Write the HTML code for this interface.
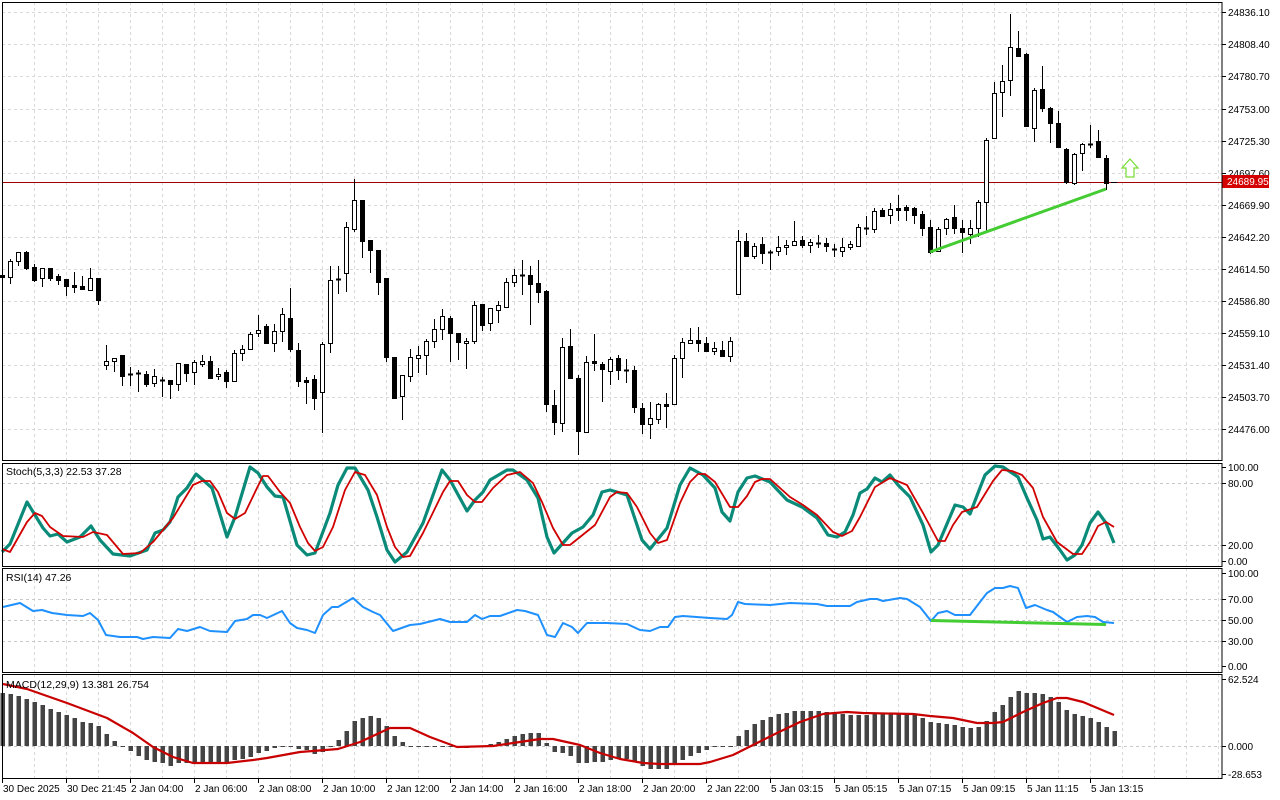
<!DOCTYPE html>
<html><head><meta charset="utf-8"><style>
html,body{margin:0;padding:0;background:#fff;width:1280px;height:800px;overflow:hidden}
svg{display:block;font-family:"Liberation Sans",sans-serif}
</style></head><body>
<svg id="s" width="1280" height="800" xmlns="http://www.w3.org/2000/svg"></svg>
<script>
var S=document.getElementById('s');var h='';
function L(x1,y1,x2,y2,c,w,d){h+='<line x1="'+x1+'" y1="'+y1+'" x2="'+x2+'" y2="'+y2+'" stroke="'+c+'" stroke-width="'+(w||1)+'"'+(d?' stroke-dasharray="'+d+'"':'')+'/>';}
function T(x,y,t,c,a){h+='<text x="'+x+'" y="'+y+'" font-size="10" fill="'+(c||'#000')+'"'+(a?' text-anchor="'+a+'"':'')+'>'+t+'</text>';}
function P(pts,c,w){h+='<polyline fill="none" stroke="'+c+'" stroke-width="'+w+'" stroke-linejoin="round" points="'+pts.map(function(p){return p[0]+','+p[1]}).join(' ')+'"/>';}
var G='#d9d9d9';
// panels
var panels=[[2,460],[463,566],[568,672],[674,778]];
panels.forEach(function(p){
 for(var x=34;x<1222;x+=32)L(x+.5,p[0],x+.5,p[1],G,1,'3,3');
});
var py=[12,44,76,109,141,173,205,237,269,301,333,365,397,429];
var pv=['24836.10','24808.40','24780.70','24753.00','24725.30','24697.60','24669.90','24642.20','24614.50','24586.80','24559.10','24531.40','24503.70','24476.00'];
py.forEach(function(y,i){L(2,y+.5,1222,y+.5,G,1,'3,3');L(1222,y+.5,1226,y+.5,'#000');T(1228,y+4,pv[i]);});
[[483,'80.00'],[545,'20.00']].forEach(function(a){L(2,a[0]+.5,1222,a[0]+.5,'#c8c8c8',1,'3,3');L(1222,a[0]+.5,1226,a[0]+.5,'#000');T(1228,a[0]+4,a[1]);});
L(1222,467.5,1226,467.5,'#000');T(1228,471,'100.00');L(1222,561.5,1226,561.5,'#000');T(1228,565,'0.00');
[[599,'70.00'],[620,'50.00'],[641,'30.00']].forEach(function(a){L(2,a[0]+.5,1222,a[0]+.5,'#c8c8c8',1,'3,3');L(1222,a[0]+.5,1226,a[0]+.5,'#000');T(1228,a[0]+4,a[1]);});
L(1222,573.5,1226,573.5,'#000');T(1228,577,'100.00');L(1222,666.5,1226,666.5,'#000');T(1228,670,'0.00');
L(2,746.5,1222,746.5,'#c8c8c8',1,'3,3');L(1222,746.5,1226,746.5,'#000');T(1228,750,'0.000');
L(1222,679.5,1226,679.5,'#000');T(1228,683,'62.524');L(1222,774.5,1226,774.5,'#000');T(1228,778,'-28.653');
// candles [top,bottom,high,low,type]
var C=[[275,277,274,278,'b'],[261,277,259,283,'w'],[252,261,252,265,'w'],[252,268,251,269,'b'],[267,280,264,281,'b'],[268,278,268,286,'w'],[268,278,268,280,'b'],[276,280,274,284,'b'],[279,286,279,295,'b'],[285,287,272,292,'b'],[286,289,276,289,'b'],[278,290,268,290,'w'],[278,300,278,304,'b'],[361,365,345,369,'w'],[358,361,358,371,'w'],[355,376,355,385,'b'],[374,375,367,385,'b'],[373,374,370,391,'c'],[374,384,371,386,'b'],[376,383,369,386,'w'],[380,381,377,396,'c'],[380,384,380,398,'b'],[363,384,363,390,'w'],[364,373,364,381,'b'],[362,372,360,384,'w'],[361,364,355,366,'w'],[361,378,356,378,'b'],[374,376,368,379,'w'],[372,381,370,387,'b'],[353,381,350,381,'w'],[349,353,345,360,'w'],[334,349,332,349,'w'],[330,333,315,336,'w'],[326,343,324,343,'b'],[331,343,324,351,'w'],[314,331,308,341,'w'],[318,349,288,351,'b'],[350,381,343,386,'b'],[380,382,377,403,'b'],[379,398,375,409,'b'],[344,392,342,432,'w'],[280,343,266,352,'w'],[279,280,266,293,'c'],[227,273,222,291,'w'],[200,229,179,231,'w'],[200,241,200,257,'b'],[240,250,240,272,'b'],[250,282,250,294,'b'],[278,357,278,361,'b'],[357,398,357,398,'b'],[375,396,375,419,'w'],[357,376,349,381,'w'],[355,358,346,372,'w'],[341,355,339,374,'w'],[329,341,319,347,'w'],[316,329,309,339,'w'],[318,333,316,361,'b'],[333,342,333,359,'b'],[341,343,338,368,'w'],[305,341,301,343,'w'],[304,325,304,330,'b'],[308,323,308,330,'w'],[305,310,301,322,'w'],[282,307,278,307,'w'],[275,282,269,286,'w'],[275,276,260,294,'b'],[275,284,266,324,'b'],[283,292,260,302,'b'],[291,404,290,411,'b'],[405,422,390,434,'b'],[347,423,338,431,'w'],[346,378,329,378,'b'],[378,431,375,454,'b'],[362,432,356,432,'w'],[361,363,334,370,'b'],[364,369,362,401,'b'],[359,371,357,384,'w'],[358,370,355,379,'b'],[370,371,359,382,'c'],[370,407,366,412,'b'],[408,424,403,433,'b'],[418,424,402,438,'w'],[404,419,403,423,'w'],[404,406,393,427,'b'],[358,404,355,404,'w'],[342,358,338,377,'w'],[340,343,328,343,'w'],[340,343,327,351,'b'],[343,351,337,351,'b'],[348,351,342,354,'w'],[350,356,341,356,'b'],[341,356,337,361,'w'],[241,294,230,294,'w'],[241,256,233,256,'b'],[246,256,243,258,'w'],[244,253,237,263,'b'],[252,253,250,269,'c'],[247,251,236,255,'w'],[245,247,240,254,'w'],[241,245,221,245,'w'],[240,245,236,247,'b'],[242,245,239,252,'w'],[243,244,235,247,'c'],[243,246,238,251,'b'],[249,250,244,256,'c'],[247,251,238,256,'w'],[244,247,241,249,'w'],[227,246,224,246,'w'],[228,229,216,234,'c'],[211,229,208,232,'w'],[210,216,208,216,'b'],[209,215,203,223,'w'],[208,210,195,220,'b'],[207,210,205,220,'b'],[208,215,207,223,'b'],[214,228,211,235,'b'],[227,252,220,253,'b'],[229,251,227,251,'w'],[219,228,218,234,'w'],[217,228,205,233,'b'],[228,232,220,252,'b'],[228,234,220,243,'w'],[202,228,200,236,'w'],[140,202,138,231,'w'],[93,138,82,138,'w'],[81,92,65,116,'w'],[47,80,14,95,'w'],[48,56,31,56,'b'],[54,126,53,126,'b'],[90,128,88,141,'w'],[89,108,66,111,'b'],[108,123,107,142,'b'],[123,147,111,147,'b'],[149,182,148,183,'b'],[154,183,153,184,'w'],[144,153,143,170,'w'],[144,145,125,147,'c'],[141,157,130,157,'b'],[158,183,155,189,'b'],[182,182,182,182,'c']];
// price line
L(2,182.5,1222,182.5,'#a00000');
C.forEach(function(c,k){var x=2+8*k;
 if(k==139){L(x-3,182.5,x+3,182.5,'#000');return;}
 L(x+.5,c[2],x+.5,c[3]+1,'#000');
 if(c[4]=='c'||c[1]-c[0]<2){L(x-2,c[0]+.5,x+3,c[0]+.5,'#000',Math.max(1,c[1]-c[0]+1));}
 else h+='<rect x="'+(x-1.5)+'" y="'+(c[0]+.5)+'" width="4" height="'+(c[1]-c[0])+'" fill="'+(c[4]=='w'?'#fff':'#000')+'" stroke="#000" stroke-width="1"/>';
});
L(930,252,1106,189,'#44cc33',3);
h+='<polygon points="1130,159 1138,168 1134,168 1134,177 1126,177 1126,168 1122,168" fill="#fff" stroke="#77dd33" stroke-width="1.2"/>';
h+='<rect x="1222" y="175" width="47" height="13" fill="#d40000"/>';
T(1227,185,'24689.95','#fff');
// MACD histogram
var M=[693,694,696,699,702,705,709,712,715,718,722,723,726,734,741,746,751,756,760,762,763,766,763,763,763,763,763,763,762,760,759,757,753,751,748,747,747,749,750,754,752,747,740,731,721,718,716,718,726,736,742,746,747,747,747,747,746,747,748,747,747,744,742,739,736,734,733,733,743,752,753,756,763,763,762,762,760,759,759,762,766,769,769,769,764,760,756,753,750,747,747,746,736,730,724,720,717,714,713,711,711,711,711,712,713,714,715,715,715,714,714,714,714,714,715,718,722,723,724,725,727,728,727,721,712,705,697,691,693,693,694,697,702,710,714,716,718,722,727,731];
M.forEach(function(v,k){var x=2+8*k;var t=Math.min(v,746),b=Math.max(v,746);if(b-t<1){t=746;b=747;}
 h+='<rect x="'+(x-1.5)+'" y="'+t+'" width="4.5" height="'+(b-t)+'" fill="#444"/>';});
P([[3,684],[27,689],[67,703],[107,718],[133,733],[153,747],[173,757],[193,763],[227,763],[253,760],[267,758],[300,752],[338,749],[360,742],[390,728],[410,728],[430,737],[457,747],[493,746],[513,743],[540,739],[553,739],[580,745],[600,753],[620,759],[643,763],[660,764],[700,764],[710,762],[733,755],[757,743],[777,733],[800,722],[823,714],[847,712],[863,713],[913,714],[930,716],[953,718],[977,723],[993,723],[1003,722],[1023,712],[1043,703],[1057,698],[1067,698],[1083,702],[1114,715]],'#c80000',2.2);
// Stoch
P([[2,552],[10,544],[27,502],[43,528],[50,536],[58,534],[67,542],[80,537],[91,526],[100,540],[113,554],[130,556],[147,550],[155,533],[163,530],[170,522],[178,497],[187,488],[196,474],[203,480],[212,488],[227,537],[235,517],[250,467],[258,473],[267,487],[275,496],[283,497],[297,545],[307,555],[315,553],[330,513],[338,485],[347,468],[355,468],[368,490],[377,517],[387,550],[395,562],[407,552],[423,523],[442,470],[450,480],[467,511],[475,500],[483,492],[490,480],[507,470],[513,470],[527,480],[538,498],[547,537],[554,553],[572,533],[583,527],[593,515],[602,492],[610,490],[627,495],[642,540],[650,549],[667,528],[680,485],[690,468],[703,475],[715,488],[722,512],[730,521],[738,492],[747,478],[755,476],[770,482],[787,500],[802,507],[817,518],[828,535],[837,537],[845,532],[853,515],[860,493],[867,489],[875,478],[882,482],[890,475],[898,485],[910,497],[923,525],[931,552],[938,545],[955,505],[963,507],[970,514],[978,493],[985,475],[995,466],[1003,467],[1018,477],[1027,498],[1037,520],[1043,539],[1050,537],[1060,550],[1067,560],[1075,555],[1082,545],[1090,523],[1098,512],[1106,523],[1114,543]],'#0a8a78',3.2);
P([[2,549],[10,552],[27,522],[35,513],[42,516],[50,527],[63,536],[83,537],[93,532],[107,535],[123,554],[140,553],[153,542],[173,518],[193,485],[202,481],[210,481],[218,492],[227,513],[235,519],[245,513],[257,488],[263,476],[268,476],[280,492],[290,503],[300,527],[308,543],[315,551],[323,547],[333,527],[345,490],[355,472],[365,475],[377,495],[387,527],[395,547],[403,557],[410,556],[423,533],[443,492],[450,481],[458,481],[467,495],[475,502],[482,502],[493,488],[507,475],[520,472],[533,483],[542,502],[553,528],[563,545],[570,545],[580,537],[595,525],[610,497],[617,492],[627,493],[637,507],[650,533],[658,543],[667,540],[680,503],[690,482],[698,474],[705,474],[715,482],[730,507],[738,507],[747,496],[755,482],[762,479],[770,479],[790,497],[803,505],[817,515],[833,532],[842,536],[852,531],[860,517],[875,487],[890,478],[907,485],[923,513],[938,541],[945,541],[953,525],[962,512],[977,507],[993,481],[1002,470],[1012,471],[1022,475],[1033,488],[1043,517],[1057,542],[1073,554],[1082,554],[1090,542],[1098,526],[1106,522],[1114,527]],'#d00000',1.8);
// RSI
P([[3,607],[20,603],[33,611],[42,610],[52,613],[67,615],[83,616],[90,613],[98,620],[106,635],[120,637],[137,637],[143,639],[153,637],[170,638],[178,629],[187,631],[200,627],[210,631],[227,632],[235,621],[247,619],[253,615],[260,615],[267,618],[282,611],[290,623],[297,628],[307,630],[315,633],[323,615],[332,607],[338,607],[353,598],[363,607],[373,612],[380,615],[393,631],[410,625],[420,624],[440,619],[450,622],[467,622],[475,615],[482,619],[490,616],[500,616],[517,610],[525,611],[538,615],[547,635],[555,637],[563,623],[572,627],[578,633],[587,623],[607,623],[627,624],[640,630],[650,631],[660,627],[668,627],[675,617],[683,616],[710,618],[727,619],[732,615],[738,602],[745,604],[770,605],[790,603],[817,604],[827,606],[850,606],[857,602],[870,599],[877,599],[883,601],[900,598],[907,599],[920,607],[931,621],[938,613],[947,611],[955,615],[970,615],[980,602],[987,593],[995,588],[1003,588],[1010,586],[1018,588],[1026,608],[1035,605],[1047,610],[1053,612],[1060,617],[1067,622],[1077,617],[1087,616],[1095,617],[1103,622],[1114,623]],'#1e90ff',2);
L(931,620.5,1106,624.5,'#44cc33',3);
// borders
panels.forEach(function(p){h+='<rect x="2.5" y="'+(p[0]+.5)+'" width="1219.5" height="'+(p[1]-p[0])+'" fill="none" stroke="#000" stroke-width="1"/>';});
// labels
h+='<text x="6" y="475" font-size="10.5">Stoch(5,3,3) 22.53 37.28</text>';
h+='<text x="6" y="581" font-size="10.5">RSI(14) 47.26</text>';
h+='<text x="6" y="688" font-size="10.5">MACD(12,29,9) 13.381 26.754</text>';
var xl=['30 Dec 2025','30 Dec 21:45','2 Jan 04:00','2 Jan 06:00','2 Jan 08:00','2 Jan 10:00','2 Jan 12:00','2 Jan 14:00','2 Jan 16:00','2 Jan 18:00','2 Jan 20:00','2 Jan 22:00','5 Jan 03:15','5 Jan 05:15','5 Jan 07:15','5 Jan 09:15','5 Jan 11:15','5 Jan 13:15'];
xl.forEach(function(t,i){var x=2+64*i;L(x+.5,778,x+.5,783,'#000');T(x+1,792,t);});
S.innerHTML=h;
</script>
</body></html>
